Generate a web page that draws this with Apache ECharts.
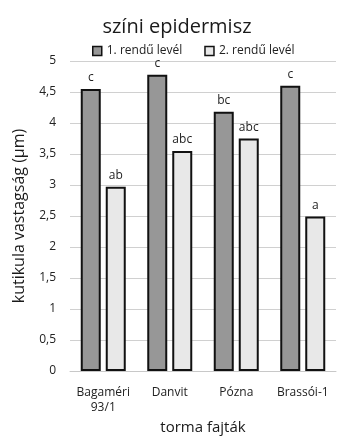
<!DOCTYPE html>
<html>
<head>
<meta charset="utf-8">
<script src="https://cdn.jsdelivr.net/npm/echarts@6/dist/echarts.min.js"></script>
<style>
  html, body { margin: 0; padding: 0; background: #fff; }
  #chart { width: 354px; height: 436px; }
</style>
</head>
<body>
<div id="chart"></div>
<script>
// adatok
var fajtak = ['Bagaméri\n93/1', 'Danvit', 'Pózna', 'Brassói-1'];
var elsoRendu = [4.55, 4.78, 4.18, 4.6];
var masodRendu = [2.97, 3.55, 3.75, 2.49];
var betukElso = ['c', 'c', 'bc', 'c'];
var betukMasod = ['ab', 'abc', 'abc', 'a'];

var betu = 'Open Sans, Noto Sans, sans-serif';
var chart = echarts.init(document.getElementById('chart'));

var option = {
    backgroundColor: '#fff',
    animation: false,
    title: {
        text: 'színi epidermisz',
        left: 'center',
        top: 12,
        textStyle: { fontFamily: betu, fontSize: 20, fontWeight: 'normal', color: '#1a1a1a' }
    },
    legend: {
        top: 40,
        left: 87,
        icon: 'rect',
        itemWidth: 9,
        itemHeight: 9,
        itemGap: 22,
        itemStyle: { borderWidth: 1.5, borderColor: '#111' },
        textStyle: { fontFamily: betu, fontSize: 12, color: '#222' },
        data: ['1. rendű levél', '2. rendű levél']
    },
    grid: { left: 70, right: 18, top: 61, bottom: 65, outerBoundsMode: 'none' },
    xAxis: {
        type: 'category',
        data: fajtak,
        name: 'torma fajták',
        nameLocation: 'middle',
        nameGap: 45,
        nameTextStyle: { fontFamily: betu, fontSize: 15, color: '#1a1a1a' },
        axisLine: { lineStyle: { color: '#c8c8c8', width: 1 } },
        axisTick: { show: false },
        axisLabel: { interval: 0, fontFamily: betu, fontSize: 12, color: '#222', margin: 14, lineHeight: 15 }
    },
    yAxis: {
        type: 'value',
        min: 0,
        max: 5,
        interval: 0.5,
        name: 'kutikula vastagság (µm)',
        nameLocation: 'middle',
        nameGap: 43,
        nameTextStyle: { fontFamily: betu, fontSize: 16, color: '#1a1a1a' },
        axisLine: { show: false },
        axisTick: { show: false },
        splitLine: { lineStyle: { color: '#d0d0d0', width: 1 } },
        axisLabel: {
            fontFamily: betu, fontSize: 12, color: '#222', margin: 14,
            formatter: function (v) { return String(v).replace('.', ','); }
        }
    },
    series: [
        {
            name: '1. rendű levél',
            type: 'bar',
            data: elsoRendu,
            barWidth: 20,
            barGap: '25%',
            itemStyle: { color: '#979797', borderColor: '#111', borderWidth: 2 },
            label: {
                show: true, position: 'top', distance: 5,
                fontFamily: betu, fontSize: 12, color: '#222',
                formatter: function (p) { return betukElso[p.dataIndex]; }
            }
        },
        {
            name: '2. rendű levél',
            type: 'bar',
            data: masodRendu,
            barWidth: 20,
            itemStyle: { color: '#e8e8e8', borderColor: '#111', borderWidth: 2 },
            label: {
                show: true, position: 'top', distance: 5,
                fontFamily: betu, fontSize: 12, color: '#222',
                formatter: function (p) { return betukMasod[p.dataIndex]; }
            }
        }
    ]
};
chart.setOption(option);
</script>
</body>
</html>
